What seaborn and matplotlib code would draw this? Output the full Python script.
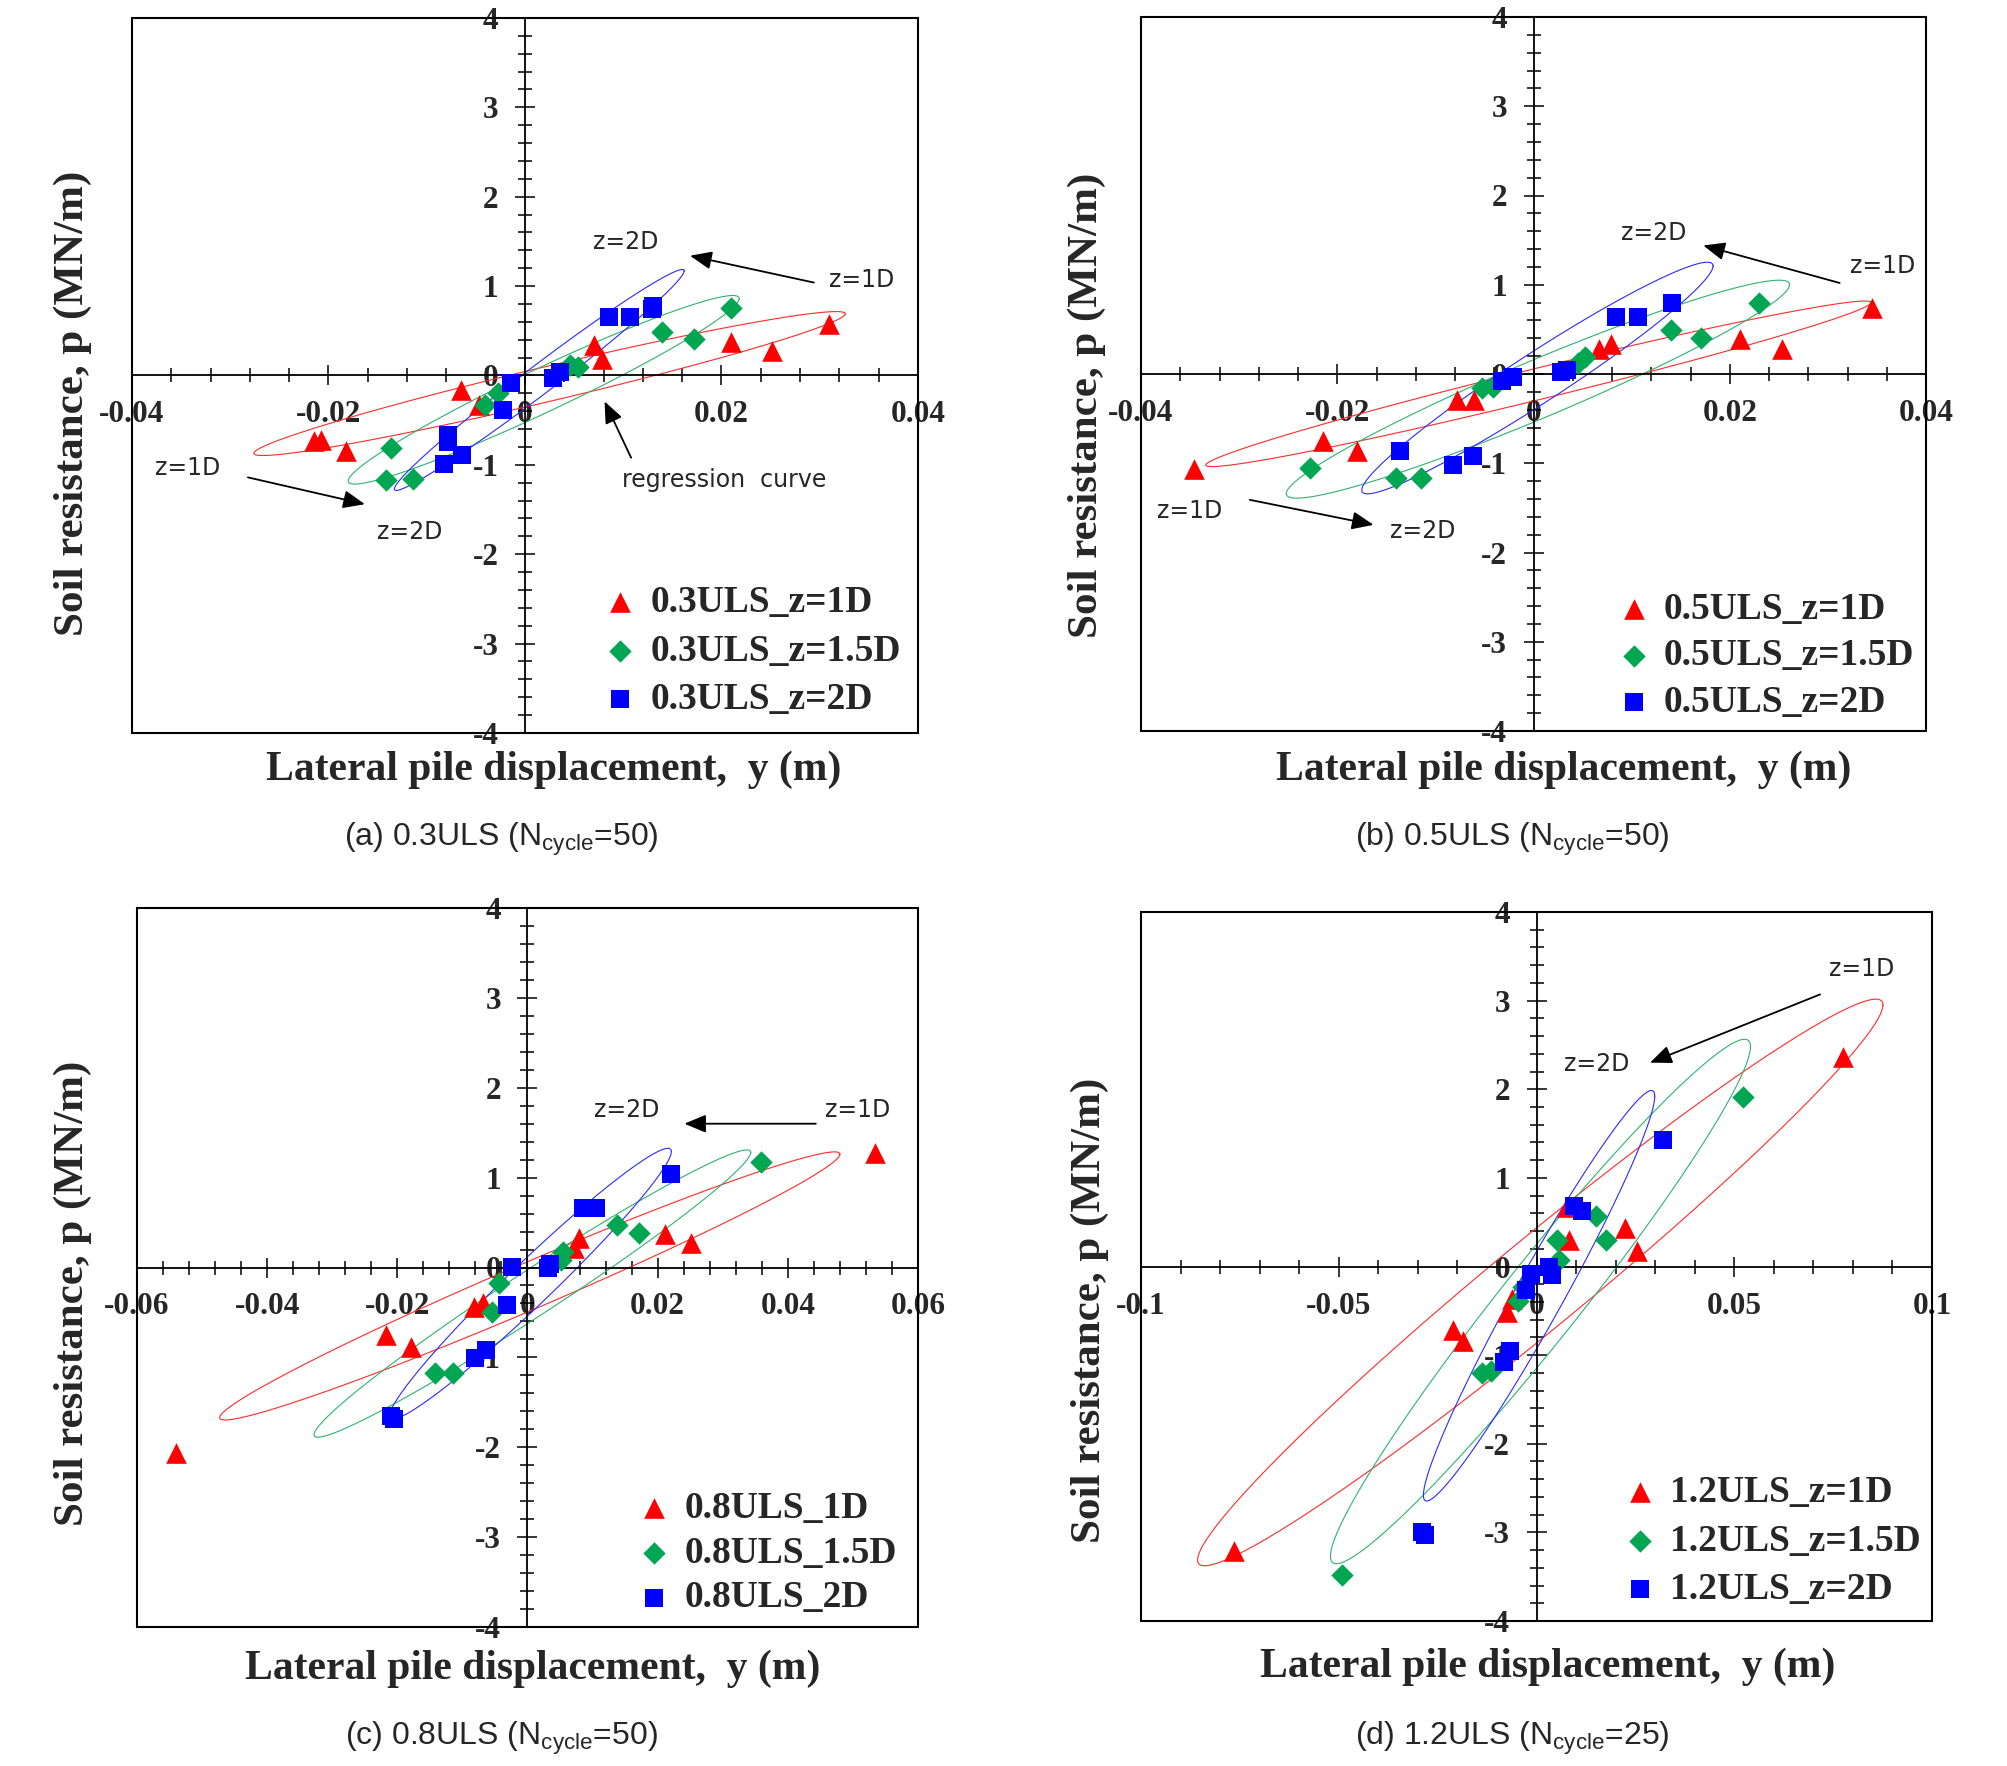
import numpy as np
import pandas as pd
import matplotlib
matplotlib.use("Agg")
import matplotlib.pyplot as plt
import seaborn as sns
from matplotlib.patches import Rectangle
from matplotlib.ticker import FixedLocator, MultipleLocator, FuncFormatter

# ---------------- data ----------------
# (a) 0.3ULS
A_1D_X = [-0.0215, -0.0208, -0.0182, -0.0065, -0.0047, 0.0070, 0.0078, 0.0210, 0.0251, 0.0309]
A_1D_Y = [-0.73, -0.72, -0.85, -0.16, -0.33, 0.34, 0.18, 0.38, 0.27, 0.58]
A_15D_X = [-0.0136, -0.0141, -0.0114, -0.0041, -0.0027, 0.0046, 0.0054, 0.0139, 0.0172, 0.0210]
A_15D_Y = [-0.81, -1.17, -1.16, -0.33, -0.20, 0.12, 0.10, 0.49, 0.41, 0.75]
A_2D_X = [-0.0014, -0.0022, -0.0078, -0.0078, -0.0082, -0.0064, 0.0029, 0.0036, 0.0085, 0.0107, 0.0130, 0.0129]
A_2D_Y = [-0.08, -0.39, -0.67, -0.74, -0.99, -0.89, -0.03, 0.04, 0.65, 0.65, 0.78, 0.74]

# (b) 0.5ULS
B_1D_X = [-0.0346, -0.0215, -0.0180, -0.0078, -0.0061, 0.0067, 0.0079, 0.0210, 0.0253, 0.0345]
B_1D_Y = [-1.07, -0.75, -0.86, -0.29, -0.29, 0.28, 0.34, 0.39, 0.28, 0.74]
B_15D_X = [-0.0228, -0.0140, -0.0115, -0.0052, -0.0041, 0.0045, 0.0052, 0.0140, 0.0171, 0.0230]
B_15D_Y = [-1.05, -1.17, -1.17, -0.16, -0.15, 0.12, 0.19, 0.49, 0.40, 0.80]
B_2D_X = [-0.0136, -0.0082, -0.0062, -0.0032, -0.0021, 0.0028, 0.0034, 0.0084, 0.0107, 0.0141]
B_2D_Y = [-0.86, -1.02, -0.92, -0.08, -0.03, 0.02, 0.05, 0.64, 0.64, 0.79]

# (c) 0.8ULS
C_1D_X = [-0.0540, -0.0217, -0.0179, -0.0082, -0.0068, 0.0072, 0.0079, 0.0211, 0.0251, 0.0534]
C_1D_Y = [-2.06, -0.755, -0.88, -0.44, -0.40, 0.22, 0.33, 0.37, 0.27, 1.27]
C_15D_X = [-0.0142, -0.0114, -0.0055, -0.0044, 0.0052, 0.0054, 0.0138, 0.0172, 0.0359]
C_15D_Y = [-1.17, -1.17, -0.49, -0.17, 0.08, 0.17, 0.47, 0.38, 1.17]
C_2D_X = [-0.0210, -0.0205, -0.0080, -0.0063, -0.0031, -0.0024, 0.0032, 0.0035, 0.0085, 0.0106, 0.0220]
C_2D_Y = [-1.65, -1.69, -1.01, -0.92, -0.42, 0.01, 0.00, 0.04, 0.66, 0.66, 1.04]

# (d) 1.2ULS
D_1D_X = [-0.0765, -0.0212, -0.0185, -0.0074, -0.0061, 0.0078, 0.0081, 0.0224, 0.0254, 0.0774]
D_1D_Y = [-3.21, -0.72, -0.84, -0.51, -0.37, 0.67, 0.30, 0.44, 0.17, 2.36]
D_15D_X = [-0.0493, -0.0138, -0.0116, -0.0048, -0.0034, 0.0058, 0.0052, 0.0151, 0.0176, 0.0521]
D_15D_Y = [-3.48, -1.20, -1.18, -0.39, -0.23, 0.07, 0.30, 0.57, 0.30, 1.91]
D_2D_X = [-0.0290, -0.0283, -0.0081, -0.0066, -0.0026, -0.0015, 0.0032, 0.0038, 0.0094, 0.0114, 0.0320]
D_2D_Y = [-3.00, -3.03, -1.08, -0.95, -0.26, -0.09, 0.00, -0.10, 0.68, 0.63, 1.43]

# regression ellipses: centre x, centre y, x half-span, y at tip, half-thickness
A_ELL_1D = [0.0025, -0.09, 0.0301, 0.78, 0.20]
A_ELL_15D = [0.0019, -0.16, 0.0199, 1.02, 0.27]
A_ELL_2D = [0.00145, -0.05, 0.01475, 1.22, 0.20]
B_ELL_1D = [0.0005, -0.11, 0.0339, 0.91, 0.18]
B_ELL_15D = [0.00045, -0.17, 0.02565, 1.17, 0.35]
B_ELL_2D = [0.0004, -0.045, 0.0179, 1.255, 0.33]
C_ELL_1D = [0.00035, -0.205, 0.04765, 1.465, 0.28]
C_ELL_15D = [0.00075, -0.29, 0.03355, 1.57, 0.30]
C_ELL_2D = [0.00045, -0.18, 0.02165, 1.47, 0.33]
D_ELL_1D = [0.00095, -0.18, 0.08665, 3.13, 0.65]
D_ELL_15D = [0.0010, -0.395, 0.0531, 2.875, 0.70]
D_ELL_2D = [0.00065, -0.33, 0.02925, 2.25, 0.55]

Y_TICKS = [-4, -3, -2, -1, 0, 1, 2, 3, 4]
X_TICKS_AB = [-0.04, -0.02, 0, 0.02, 0.04]
X_TICKS_C = [-0.06, -0.04, -0.02, 0, 0.02, 0.04, 0.06]
X_TICKS_D = [-0.1, -0.05, 0, 0.05, 0.1]

SERIF = ['Liberation Serif', 'DejaVu Serif']
SANS = ['DejaVu Sans']

plt.rcParams['axes.unicode_minus'] = False
plt.rcParams['mathtext.fontset'] = 'custom'
plt.rcParams['mathtext.rm'] = 'Liberation Sans'
sns.set_style('white')

RED, GREEN, BLUE = '#FF0000', '#00A651', '#0000FF'
ERED, EGREEN, EBLUE = '#FF2A2A', '#2DB36E', '#2A2AFF'

W, H = 2008, 1766
fig = plt.figure(figsize=(W / 100, H / 100), dpi=100)


def px_axes(l, t, r, b):
    return fig.add_axes([l / W, 1 - b / H, (r - l) / W, (b - t) / H])


def ellipse(ax, p, color):
    cx, cy, X, Yt, h = p
    t = np.linspace(0, 2 * np.pi, 300)
    ax.plot(cx + X * np.cos(t), cy + Yt * np.cos(t) + h * np.sin(t), color=color, lw=0.8, zorder=2)


def panel(ax, series, ells, xlim, xticks, xminor, labels, leg_anchor, leg_space):
    frames = []
    for name, xs, ys in zip(labels, *zip(*series)):
        frames.append(pd.DataFrame({'x': xs, 'y': ys, 'series': name}))
    df = pd.concat(frames)
    for p, c in zip(ells, [ERED, EGREEN, EBLUE]):
        ellipse(ax, p, c)
    styles = [(RED, '^', 220), (GREEN, 'D', 130), (BLUE, 's', 170)]
    for name, (c, m, s) in zip(labels, styles):
        sns.scatterplot(data=df[df['series'] == name], x='x', y='y', color=c, marker=m, s=s,
                        linewidth=0, label=name, ax=ax, zorder=3)
    ax.set_xlim(*xlim)
    ax.set_ylim(-4, 4)
    ax.set_xlabel('')
    ax.set_ylabel('')
    for sp in ['top', 'right']:
        ax.spines[sp].set_visible(False)
    ax.spines['left'].set_position(('data', 0))
    ax.spines['bottom'].set_position(('data', 0))
    for sp in ['left', 'bottom']:
        ax.spines[sp].set_color('k')
        ax.spines[sp].set_linewidth(1.3)
    ax.add_patch(Rectangle((0, 0), 1, 1, transform=ax.transAxes, fill=False, ec='k', lw=1.5,
                           clip_on=False, zorder=5))
    ax.xaxis.set_major_locator(FixedLocator(xticks))
    ax.xaxis.set_minor_locator(MultipleLocator(xminor))
    ax.yaxis.set_major_locator(FixedLocator(Y_TICKS))
    ax.yaxis.set_minor_locator(MultipleLocator(0.2))
    fmt = FuncFormatter(lambda v, p: '%g' % round(v, 6))
    ax.xaxis.set_major_formatter(fmt)
    ax.yaxis.set_major_formatter(fmt)
    ax.xaxis.set_ticks_position('bottom')
    ax.yaxis.set_ticks_position('left')
    ax.tick_params(which='major', direction='inout', length=14, width=1.1, color='k')
    ax.tick_params(which='minor', direction='inout', length=10, width=1.1, color='k')
    ax.tick_params(axis='x', which='major', pad=11)
    ax.tick_params(axis='y', which='major', pad=12)
    for lab in ax.get_xticklabels() + ax.get_yticklabels():
        lab.set_fontfamily(SERIF)
        lab.set_fontweight('bold')
        lab.set_fontsize(22.5)
    ax.grid(False)
    ax.legend(loc='lower right', bbox_to_anchor=leg_anchor, frameon=False, borderpad=0,
              handlelength=1.0, handletextpad=0.3, labelspacing=leg_space,
              prop={'family': SERIF, 'weight': 'bold', 'size': 27})


def note(ax, x, y, s):
    ax.text(x, y, s, ha='center', va='center', fontsize=17, family=SANS, zorder=6)


def arrow(ax, tail, head):
    ax.annotate('', xy=head, xytext=tail, zorder=6,
                arrowprops=dict(arrowstyle='-|>,head_length=0.6,head_width=0.25', color='k', lw=1.3,
                                mutation_scale=22, shrinkA=0, shrinkB=0))


# (a)
ax = px_axes(132, 18, 918, 733)
panel(ax, [(A_1D_X, A_1D_Y), (A_15D_X, A_15D_Y), (A_2D_X, A_2D_Y)],
      [A_ELL_1D, A_ELL_15D, A_ELL_2D], (-0.04, 0.04), X_TICKS_AB, 0.004,
      ['0.3ULS_z=1D', '0.3ULS_z=1.5D', '0.3ULS_z=2D'], (1.002, -0.004), 0.36)
note(ax, 0.0102, 1.49, 'z=2D')
note(ax, 0.0343, 1.07, 'z=1D')
arrow(ax, (0.0294, 1.04), (0.0168, 1.34))
note(ax, -0.0343, -1.04, 'z=1D')
note(ax, -0.0117, -1.75, 'z=2D')
arrow(ax, (-0.0282, -1.14), (-0.0163, -1.44))
note(ax, 0.0203, -1.17, 'regression  curve')
arrow(ax, (0.0108, -0.92), (0.0081, -0.29))

# (b)
ax = px_axes(1141, 17, 1926, 731)
panel(ax, [(B_1D_X, B_1D_Y), (B_15D_X, B_15D_Y), (B_2D_X, B_2D_Y)],
      [B_ELL_1D, B_ELL_15D, B_ELL_2D], (-0.04, 0.04), X_TICKS_AB, 0.004,
      ['0.5ULS_z=1D', '0.5ULS_z=1.5D', '0.5ULS_z=2D'], (1.009, -0.011), 0.31)
note(ax, 0.0122, 1.58, 'z=2D')
note(ax, 0.0356, 1.21, 'z=1D')
arrow(ax, (0.0312, 1.02), (0.0173, 1.44))
note(ax, -0.0350, -1.53, 'z=1D')
note(ax, -0.0113, -1.76, 'z=2D')
arrow(ax, (-0.0289, -1.41), (-0.0163, -1.69))

# (c)
ax = px_axes(137, 908, 918, 1627)
panel(ax, [(C_1D_X, C_1D_Y), (C_15D_X, C_15D_Y), (C_2D_X, C_2D_Y)],
      [C_ELL_1D, C_ELL_15D, C_ELL_2D], (-0.06, 0.06), X_TICKS_C, 0.004,
      ['0.8ULS_1D', '0.8ULS_1.5D', '0.8ULS_2D'], (0.997, -0.010), 0.26)
note(ax, 0.0153, 1.75, 'z=2D')
note(ax, 0.0508, 1.75, 'z=1D')
arrow(ax, (0.0443, 1.60), (0.0241, 1.60))

# (d)
ax = px_axes(1141, 912, 1932, 1621)
panel(ax, [(D_1D_X, D_1D_Y), (D_15D_X, D_15D_Y), (D_2D_X, D_2D_Y)],
      [D_ELL_1D, D_ELL_15D, D_ELL_2D], (-0.1, 0.1), X_TICKS_D, 0.01,
      ['1.2ULS_z=1D', '1.2ULS_z=1.5D', '1.2ULS_z=2D'], (1.01, -0.007), 0.36)
note(ax, 0.0823, 3.36, 'z=1D')
note(ax, 0.0153, 2.28, 'z=2D')
arrow(ax, (0.0717, 3.07), (0.0287, 2.30))

# axis labels and captions
ylab = 'Soil resistance, p (MN/m)'
xlab = 'Lateral pile displacement,  y (m)'
for (x, y) in [(73, 403), (1087, 405), (73, 1293), (1090, 1310)]:
    fig.text(x / W, 1 - y / H, ylab, rotation=90, family=SERIF, weight='bold', fontsize=31,
             ha='center', va='center')
for (x, y) in [(554, 770), (1564, 770), (533, 1669), (1548, 1667)]:
    fig.text(x / W, 1 - y / H, xlab, family=SERIF, weight='bold', fontsize=30,
             ha='center', va='center')
captions = [r'(a) 0.3ULS (N$_{\mathrm{cycle}}$=50)', r'(b) 0.5ULS (N$_{\mathrm{cycle}}$=50)',
            r'(c) 0.8ULS (N$_{\mathrm{cycle}}$=50)', r'(d) 1.2ULS (N$_{\mathrm{cycle}}$=25)']
for s, (x, y) in zip(captions, [(501, 839), (1512, 839), (501, 1738), (1512, 1738)]):
    fig.text(x / W, 1 - y / H, s, family=['Liberation Sans'], fontsize=23, ha='center', va='center')

fig.savefig('out.png', dpi=100)
